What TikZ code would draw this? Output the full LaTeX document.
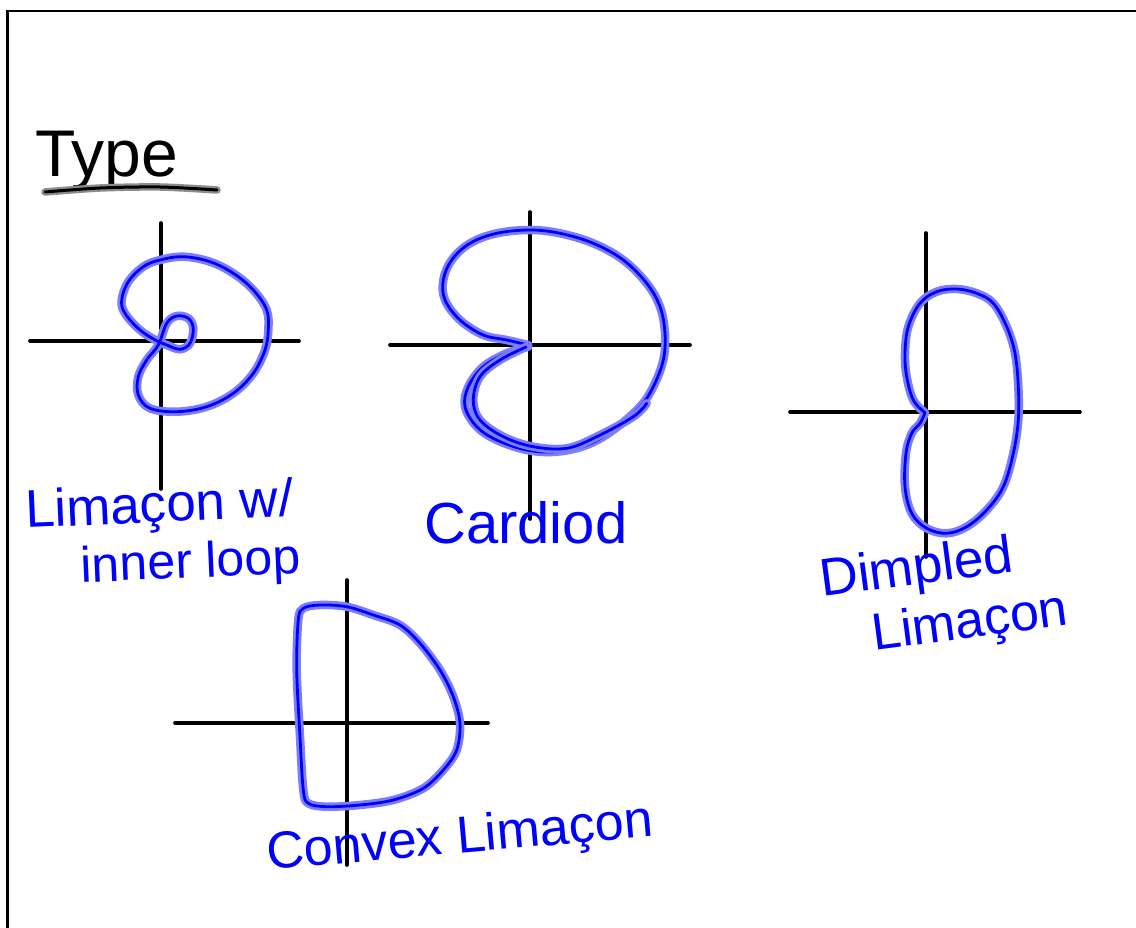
\documentclass[tikz,border=0pt]{standalone}
\usepackage{fontspec}
\setmainfont{Liberation Sans}
\definecolor{halocol}{RGB}{125,125,255}
\definecolor{halogray}{RGB}{140,140,140}
\begin{document}
\begin{tikzpicture}[x=1pt,y=-1pt,
  axis/.style={line width=3.6pt, line cap=round},
  pen/.style={draw=blue, line width=2.8pt, line join=round, line cap=round,
              preaction={draw=halocol, line width=8.5pt, line cap=round, line join=round}},
  graypen/.style={draw=black, line width=3pt, line cap=round,
              preaction={draw=halogray, line width=7.5pt, line cap=round}},
  lbl/.style={text=blue, inner sep=0pt, anchor=base west},
  frame/.style={line width=2.8pt}]
\useasboundingbox (0,0) rectangle (1136,928);
\fill[white] (0,0) rectangle (1136,928);
% page frame
\draw[frame] (7.5,940) -- (7.5,11) -- (1145,11);

% title
\node[inner sep=0pt, anchor=base west, font=\fontsize{66}{72}\selectfont] (title) at (35,177) {Type};
\draw[graypen] plot[smooth] coordinates {(45,192) (100,188) (160,187) (217,190)};

% ---- Limacon with inner loop ----
\draw[axis] (30,341) -- (299,341);
\draw[axis] (161,223) -- (161,489);
\draw[pen] plot[smooth cycle, tension=0.6] coordinates {
 (158.3,341.7) (140,330) (125,313.3) (121.7,300) (128.3,281.7) (143.3,266.7)
 (160,260) (183.3,256.7) (210,261.7) (233.3,273.3) (253.3,290) (266.7,310)
 (268.3,330) (265,350) (253.3,373.3) (233.3,393.3) (206.7,406.7) (176.7,411.7)
 (150,408.3) (138.3,395) (138.3,376.7) (146.7,360) (158.3,345)
 (166.7,323.3) (176.7,316) (188.3,318.3) (193.3,328.3) (190,343.3) (180,349.3) (166.7,345)};
\node[lbl, rotate=2.5, font=\fontsize{53}{57}\selectfont] (l1) at (26,528)
  {\vtop{\hbox{Limaçon w/}\hbox{\hspace*{53pt}\fontsize{50}{57}\selectfont inner loop}}};

% ---- Cardioid ----
\draw[axis] (390,345) -- (690,345);
\draw[axis] (530,212) -- (530,519);
\draw[pen] plot[smooth, tension=0.6] coordinates {
 (528.3,345) (506.7,340) (483.3,335) (460,320) (445,300) (443.3,280) (451.7,260)
 (470,243.3) (496.7,233.3) (530,230) (560,233.3) (593.3,243.3) (623.3,260)
 (646.7,283.3) (660,306.7) (665,333.3) (663.3,360) (653.3,386.7) (640,406.7)
 (613.3,430) (586.7,445) (556.7,451.7) (526.7,450) (496.7,440) (476.7,426.7)
 (465,406.7) (468.3,386.7) (483.3,366.7) (506.7,353.3) (528.3,346.7)};
\draw[pen] plot[smooth, tension=0.6] coordinates {
 (526,347) (500,360) (480,376.7) (473.3,400) (480,420) (503.3,436.7) (533.3,446.7)
 (566.7,448.3) (596.7,436.7) (633.3,416.7) (646.7,403.3)};
\node[lbl, font=\fontsize{58}{64}\selectfont] (l2) at (424,543) {Cardiod};

% ---- Dimpled limacon ----
\draw[axis] (790,412) -- (1080,412);
\draw[axis] (926,233) -- (926,557);
\draw[pen] plot[smooth, tension=0.6] coordinates {
 (925,412.7) (913.3,400) (906.7,376.7) (905,353.3) (908.3,326.7) (920,303.3)
 (936.7,291.7) (956.7,289) (976.7,293.3) (993.3,303.3) (1006.7,326.7) (1015,353.3)
 (1018.3,386.7) (1018.3,420) (1013.3,453.3) (1003.3,486.7) (986.7,510) (966.7,526.7)
 (946.7,533.3) (926.7,528.3) (911.7,513.3) (905,486.7) (906,453.3) (911.7,433.3)
 (920,423.3) (925,413)};
\node[lbl, rotate=7.5, font=\fontsize{53}{60}\selectfont] (l3) at (822,597)
  {\vtop{\hbox{Dimpled}\hbox{\hspace*{45pt}\fontsize{52}{60}\selectfont Limaçon}}};

% ---- Convex limacon ----
\draw[axis] (175,723) -- (488,723);
\draw[axis] (347,580) -- (347,865);
\draw[pen] plot[smooth cycle, tension=0.55] coordinates {
 (303.3,608.3) (320,605) (346.7,606.7) (373.3,615) (400,625) (420,643.3) (440,670)
 (453.3,696.7) (460,723.3) (456.7,750) (443.3,770) (423.3,788.3) (393.3,800)
 (360,805) (326.7,806.7) (308.3,803.3) (303.3,790) (300,736.7) (296.7,670) (298.3,620)};
\node[lbl, rotate=5, font=\fontsize{52}{60}\selectfont] (l4) at (268,870) {Convex Limaçon};
\end{tikzpicture}
\end{document}
